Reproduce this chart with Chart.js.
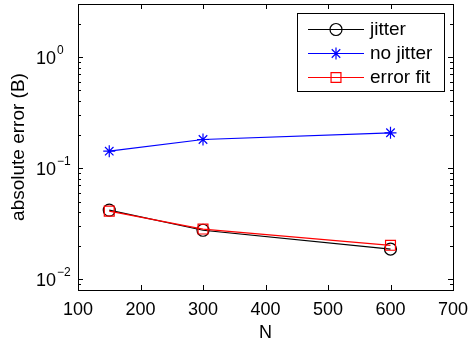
<!DOCTYPE html>
<html>
<head>
<meta charset="utf-8">
<script src="https://cdn.jsdelivr.net/npm/chart.js@4.4.1/dist/chart.umd.min.js"></script>
<style>
  html, body { margin: 0; padding: 0; background: #fff; }
  #c { display: block; }
</style>
</head>
<body>
<canvas id="c" width="470" height="343"></canvas>
<script>
// ---- data ----
const N = [150, 300, 600];
const jitter = [0.0419, 0.0276, 0.0187];
const noJitter = [0.142, 0.181, 0.208];
const errorFit = [0.0410, 0.0283, 0.0202];
const seriesNames = ['jitter', 'no jitter', 'error fit'];
const xTicks = [100, 200, 300, 400, 500, 600, 700];
const yDecades = [-2, -1, 0];
const xLabel = 'N';
const yLabel = 'absolute error (B)';

const FONT = 'Liberation Sans, Arial, Helvetica, sans-serif';

const series = [
  { name: seriesNames[0], values: jitter, color: '#000000', style: 'circle', radius: 6, order: 3 },
  { name: seriesNames[1], values: noJitter, color: '#0000ff', style: 'star', radius: 6, order: 2 },
  { name: seriesNames[2], values: errorFit, color: '#ff0000', style: 'rect', radius: 7, order: 1 }
];

const datasets = series.map(s => ({
  label: s.name,
  data: N.map((n, i) => ({ x: n, y: s.values[i] })),
  borderColor: s.color,
  backgroundColor: 'rgba(0,0,0,0)',
  borderWidth: 1.2,
  pointStyle: s.style,
  pointRadius: s.radius,
  pointHoverRadius: s.radius,
  pointBorderColor: s.color,
  pointBackgroundColor: 'rgba(0,0,0,0)',
  pointBorderWidth: 1.2,
  tension: 0,
  fill: false,
  order: s.order
}));

const frameTicks = {
  id: 'frameTicks',
  beforeDatasetsDraw(chart) {
    const { ctx, chartArea: a, scales: { x, y } } = chart;
    ctx.save();
    ctx.strokeStyle = '#000';
    ctx.lineWidth = 1;
    ctx.beginPath();
    xTicks.forEach(v => {
      const px = Math.round(x.getPixelForValue(v)) + 0.5;
      ctx.moveTo(px, a.bottom); ctx.lineTo(px, a.bottom - 5);
      ctx.moveTo(px, a.top); ctx.lineTo(px, a.top + 5);
    });
    for (let e = -3; e <= 1; e++) {
      for (let m = 1; m <= 9; m++) {
        const v = m * Math.pow(10, e);
        if (v < y.min * 0.999 || v > y.max * 1.001) continue;
        const len = m === 1 ? 5 : 3;
        const py = Math.round(y.getPixelForValue(v)) + 0.5;
        ctx.moveTo(a.left, py); ctx.lineTo(a.left + len, py);
        ctx.moveTo(a.right, py); ctx.lineTo(a.right - len, py);
      }
    }
    ctx.stroke();
    ctx.strokeRect(Math.round(a.left) + 0.5, Math.round(a.top) + 0.5,
                   Math.round(a.right - a.left), Math.round(a.bottom - a.top));
    ctx.restore();
  },
  afterDraw(chart) {
    const { ctx, scales: { y } } = chart;
    ctx.save();
    ctx.fillStyle = '#000';
    ctx.textAlign = 'left';
    ctx.textBaseline = 'alphabetic';
    yDecades.forEach(e => {
      const py = y.getPixelForValue(Math.pow(10, e));
      ctx.font = '18px ' + FONT;
      const base = '10';
      const x0 = 36;
      ctx.fillText(base, x0, py + 7);
      const w = ctx.measureText(base).width;
      ctx.font = '12px ' + FONT;
      const expo = e < 0 ? '\u2212' + Math.abs(e) : String(e);
      ctx.fillText(expo, x0 + w + 1, py - 3);
    });
    ctx.restore();
  }
};

const boxLegend = {
  id: 'boxLegend',
  afterDatasetsDraw(chart) {
    const { ctx } = chart;
    const bx = 297, by = 13, bw = 147, bh = 78;
    ctx.save();
    ctx.fillStyle = '#fff';
    ctx.fillRect(bx, by, bw, bh);
    ctx.strokeStyle = '#000';
    ctx.lineWidth = 1;
    ctx.strokeRect(bx + 0.5, by + 0.5, bw, bh);
    series.forEach((s, i) => {
      const ry = Math.round(29 + i * 24) + 0.5;
      ctx.strokeStyle = s.color;
      ctx.lineWidth = 1.2;
      ctx.beginPath();
      ctx.moveTo(308, ry); ctx.lineTo(364, ry);
      ctx.stroke();
      ctx.fillStyle = 'rgba(0,0,0,0)';
      ctx.strokeStyle = s.color;
      Chart.helpers.drawPoint(ctx, { pointStyle: s.style, radius: s.radius, borderWidth: 1.2, rotation: 0 }, 336, ry);
      ctx.fillStyle = '#000';
      ctx.font = '19px ' + FONT;
      ctx.textAlign = 'left';
      ctx.textBaseline = 'middle';
      ctx.fillText(s.name, 370, ry);
    });
    ctx.restore();
  }
};

new Chart(document.getElementById('c'), {
  type: 'line',
  data: { datasets },
  plugins: [frameTicks, boxLegend],
  options: {
    responsive: false,
    animation: false,
    devicePixelRatio: 1,
    layout: { autoPadding: false, padding: { top: 4, right: 17, left: 0, bottom: 0 } },
    plugins: { legend: { display: false }, tooltip: { enabled: false } },
    scales: {
      x: {
        type: 'linear',
        min: 100, max: 700,
        afterFit: s => { s.height = 53; s.paddingLeft = 0; s.paddingRight = 0; s.paddingTop = 0; s.paddingBottom = 0; },
        afterBuildTicks: s => { s.ticks = xTicks.map(v => ({ value: v })); },
        grid: { display: false, drawTicks: false },
        border: { display: false },
        ticks: { color: '#000', font: { family: FONT, size: 18 }, padding: 9, maxRotation: 0, autoSkip: false },
        title: { display: true, text: xLabel, color: '#000', font: { family: FONT, size: 18 }, padding: { top: 0, bottom: -1 } }
      },
      y: {
        type: 'logarithmic',
        min: 0.008, max: 3,
        afterFit: s => { s.width = 78; s.paddingLeft = 0; s.paddingRight = 0; s.paddingTop = 0; s.paddingBottom = 0; },
        grid: { display: false, drawTicks: false },
        border: { display: false },
        ticks: { display: false },
        title: { display: true, text: yLabel, color: '#000', font: { family: FONT, size: 19 }, padding: { top: 7, bottom: 0 } }
      }
    }
  }
});
</script>
</body>
</html>
